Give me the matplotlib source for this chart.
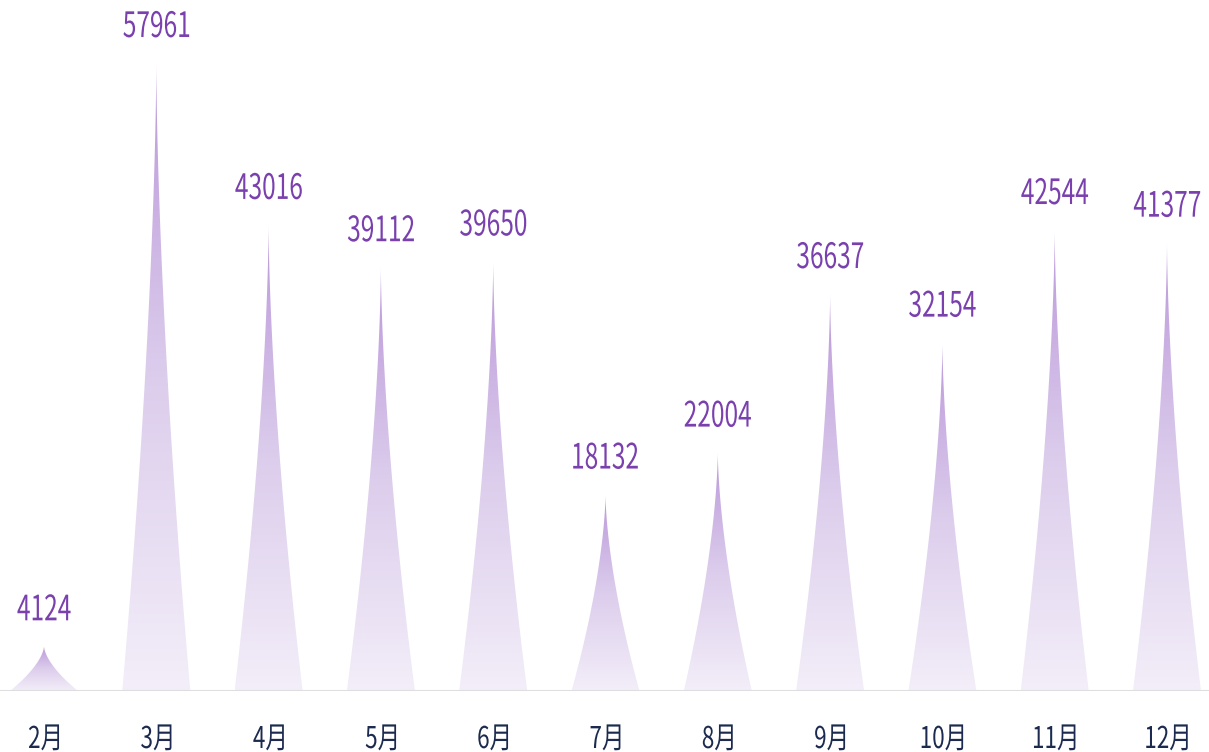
import numpy as np
import matplotlib
matplotlib.use('Agg')
import matplotlib.pyplot as plt
from matplotlib.patches import Polygon, PathPatch
from matplotlib.textpath import TextPath
from matplotlib.font_manager import FontProperties
from matplotlib.transforms import Affine2D
from matplotlib.colors import LinearSegmentedColormap

months = ['2月', '3月', '4月', '5月', '6月', '7月', '8月', '9月', '10月', '11月', '12月']
values = [4124, 57961, 43016, 39112, 39650, 18132, 22004, 36637, 32154, 42544, 41377]

font = FontProperties(family=['Noto Sans CJK SC', 'DejaVu Sans'])
font_axis = FontProperties(family=['Noto Sans CJK SC', 'DejaVu Sans'], weight='medium')
spike_cmap = LinearSegmentedColormap.from_list('spike', ['#f3eef9', '#dccdec', '#bb98da'])


def spike_poly(xc, h, w, p=1.6):
    # concave spike, sharp tip at the value
    t = np.linspace(0, 1, 150)
    half = w / 2 * (1 - t) ** p
    xs = np.concatenate([xc - half, (xc + half)[::-1]])
    ys = np.concatenate([t * h, (t * h)[::-1]])
    return np.column_stack([xs, ys])


def narrow_text(fig, px, py, s, em, color, xscale, prop):
    # text drawn as a path so it can be squeezed horizontally like the original font
    tp = TextPath((0, 0), s, size=em, prop=prop)
    ext = tp.get_extents()
    w = (ext.x0 + ext.x1) / 2
    tr = Affine2D().translate(-w, 0).scale(xscale, 1).translate(px, py)
    patch = PathPatch(tp, facecolor=color, edgecolor='none', transform=tr)
    fig.add_artist(patch)


fig = plt.figure(figsize=(12.09, 7.52), dpi=100)
ax = fig.add_axes([0, 61 / 752, 1, 691 / 752])

step = 112.3               # px between categories, first centre at 44 px
x0 = -44 / step
x1 = x0 + 1209 / step
ymax = 691 / 0.010835
ax.set_xlim(x0, x1)
ax.set_ylim(0, ymax)

bar_w = 68 / step
grad = np.linspace(0, 1, 256).reshape(-1, 1)

for i, v in enumerate(values):
    poly = Polygon(spike_poly(i, v, bar_w), closed=True, facecolor='none', edgecolor='none')
    ax.add_patch(poly)
    im = ax.imshow(grad, cmap=spike_cmap, origin='lower', aspect='auto',
                   extent=[i - bar_w / 2, i + bar_w / 2, 0, v],
                   interpolation='bilinear', zorder=2)
    im.set_clip_path(poly)

ax.axhline(0, color='#dedede', lw=1.5, zorder=3)
ax.set_xlim(x0, x1)
ax.set_ylim(0, ymax)
ax.set_axis_off()

for i, v in enumerate(values):
    px, py = ax.transData.transform((i, v))
    narrow_text(fig, px, py + 26, str(v), 35, '#7a40ae', 0.7, font)

for i, m in enumerate(months):
    px, py = ax.transData.transform((i, 0))
    narrow_text(fig, px, py - 57, m, 30, '#1b2a4e', 0.75, font_axis)

fig.savefig('out.png', dpi=100)
